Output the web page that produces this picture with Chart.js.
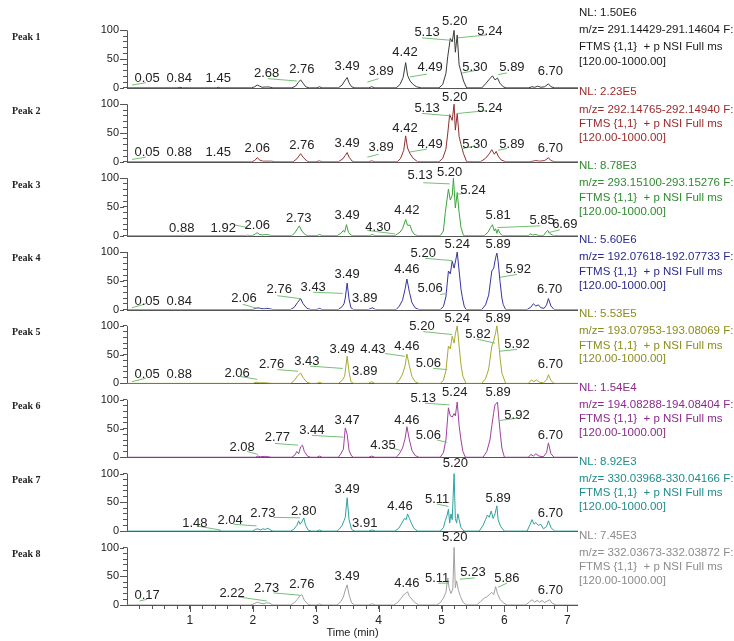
<!DOCTYPE html>
<html><head><meta charset="utf-8">
<script src="https://cdn.jsdelivr.net/npm/chart.js@4.4.1/dist/chart.umd.min.js"></script>
<style>html,body{margin:0;padding:0;background:#fff}#wrap{position:relative;width:734px;height:641px}</style>
</head><body><div id="wrap"><canvas id="c"></canvas></div>
<script>
// ---------- text ----------
const peakNames = ['Peak 1','Peak 2','Peak 3','Peak 4','Peak 5','Peak 6','Peak 7','Peak 8'];
const nlValues = ['NL: 1.50E6','NL: 2.23E5','NL: 8.78E3','NL: 5.60E6','NL: 5.53E5','NL: 1.54E4','NL: 8.92E3','NL: 7.45E3'];
const mzRanges = ['m/z= 291.14429-291.14604 F:','m/z= 292.14765-292.14940 F:','m/z= 293.15100-293.15276 F:','m/z= 192.07618-192.07733 F:','m/z= 193.07953-193.08069 F:','m/z= 194.08288-194.08404 F:','m/z= 330.03968-330.04166 F:','m/z= 332.03673-332.03872 F:'];
const scanFilter = 'FTMS {1,1}  + p NSI Full ms';
const massRange = '[120.00-1000.00]';
const xTickLabels = ['1','2','3','4','5','6','7'];
const yTickLabels = ['0','50','100'];
const xTitle = 'Time (min)';

// ---------- traces: [time (min), relative abundance (%)] ----------
const tracePeak1 = [[0,0],[0.8,0],[0.84,1],[0.88,0],[1.42,0],[1.45,1],[1.48,0],[1.98,0],[2.03,2],[2.07,5],[2.11,3],[2.15,1],[2.2,1.5],[2.26,1.5],[2.32,0],[2.62,0],[2.68,3],[2.72,9],[2.76,14],[2.8,8],[2.84,2],[2.9,0],[3.02,0],[3.06,2],[3.1,0],[3.36,0],[3.42,5],[3.46,12],[3.5,18],[3.53,9],[3.57,2],[3.62,0],[3.84,0],[3.89,2],[3.94,0],[4.28,0],[4.34,6],[4.39,18],[4.43,44],[4.46,22],[4.5,12],[4.55,6],[4.6,2],[4.68,0],[4.96,0],[5.02,6],[5.07,25],[5.1,55],[5.14,86],[5.17,80],[5.2,100],[5.22,62],[5.25,92],[5.28,40],[5.31,28],[5.35,12],[5.4,0],[5.64,0],[5.7,7],[5.76,15],[5.81,21],[5.85,14],[5.89,17],[5.93,8],[5.98,2],[6.03,0],[6.38,0],[6.44,2],[6.48,1],[6.53,3],[6.58,1],[6.64,2],[6.7,7],[6.74,2],[6.8,0],[7.17,0]];
const tracePeak2 = [[0,0],[1.98,0],[2.03,2],[2.07,7],[2.11,3],[2.16,1],[2.3,1],[2.35,0],[2.64,0],[2.7,5],[2.76,14],[2.8,8],[2.86,1],[2.9,0],[3.0,0],[3.06,1.5],[3.1,0],[3.36,0],[3.43,5],[3.47,11],[3.5,16],[3.53,8],[3.58,1],[3.62,0],[3.84,0],[3.89,1.5],[3.94,0],[4.3,0],[4.35,6],[4.4,20],[4.43,45],[4.46,24],[4.5,14],[4.55,6],[4.62,0],[4.96,0],[5.02,6],[5.07,22],[5.1,50],[5.13,82],[5.17,72],[5.2,100],[5.22,55],[5.25,84],[5.28,44],[5.31,30],[5.35,14],[5.4,0],[5.62,0],[5.7,6],[5.76,14],[5.8,21],[5.84,13],[5.87,18],[5.9,10],[5.95,3],[6.02,0],[6.4,0],[6.5,2],[6.56,1],[6.64,2],[6.7,7],[6.74,2],[6.8,0],[7.17,0]];
const tracePeak3 = [[0,0],[0.86,0],[0.88,1],[0.9,0],[1.9,0],[1.92,1],[1.95,0],[2.0,0],[2.04,3],[2.07,5],[2.11,2],[2.16,1],[2.2,2],[2.26,1],[2.3,0],[2.62,0],[2.67,5],[2.71,12],[2.74,17],[2.78,8],[2.84,1],[2.88,0],[3.02,0],[3.06,2],[3.1,0],[3.34,0],[3.4,4],[3.44,9],[3.46,6],[3.49,19],[3.52,6],[3.56,1],[3.6,0],[3.86,0],[3.9,2],[3.94,0],[4.26,0],[4.3,3],[4.34,6],[4.38,12],[4.43,28],[4.46,18],[4.5,18],[4.53,8],[4.57,2],[4.62,0],[4.98,0],[5.03,8],[5.06,40],[5.11,81],[5.14,62],[5.17,70],[5.19,100],[5.22,48],[5.25,75],[5.28,40],[5.31,14],[5.35,0],[5.68,0],[5.74,6],[5.78,14],[5.81,19],[5.84,8],[5.86,12],[5.88,4],[5.9,11],[5.93,4],[5.97,0],[6.38,0],[6.42,3],[6.45,1],[6.5,2],[6.55,0],[6.62,0],[6.66,6],[6.69,9],[6.73,3],[6.78,0],[7.17,0]];
const tracePeak4 = [[0,0],[2.0,0],[2.05,2],[2.08,3],[2.12,2],[2.18,1],[2.22,2],[2.28,1],[2.32,0],[2.6,0],[2.66,4],[2.71,12],[2.76,19],[2.8,10],[2.86,2],[2.92,0],[3.02,0],[3.06,2],[3.1,0],[3.36,0],[3.42,5],[3.45,10],[3.47,20],[3.5,46],[3.53,18],[3.56,3],[3.6,0],[3.84,0],[3.9,3],[3.95,0],[4.28,0],[4.33,6],[4.38,16],[4.42,35],[4.45,53],[4.49,30],[4.53,12],[4.58,3],[4.64,0],[4.98,0],[5.03,5],[5.07,22],[5.11,67],[5.14,62],[5.17,84],[5.2,72],[5.23,88],[5.25,100],[5.28,67],[5.31,35],[5.33,22],[5.36,6],[5.39,0],[5.64,0],[5.7,8],[5.75,25],[5.8,67],[5.83,72],[5.86,90],[5.88,98],[5.9,84],[5.93,49],[5.96,20],[5.98,9],[6.02,0],[6.36,0],[6.42,4],[6.46,10],[6.5,6],[6.54,8],[6.58,3],[6.63,2],[6.67,8],[6.7,19],[6.74,6],[6.79,0],[7.17,0]];
const tracePeak5 = [[0,0],[2.0,0],[2.06,2],[2.1,1],[2.2,1],[2.3,0],[2.6,0],[2.66,5],[2.71,13],[2.76,18],[2.8,10],[2.86,2],[2.92,0],[3.02,0],[3.06,2],[3.1,0],[3.36,0],[3.42,5],[3.46,12],[3.5,47],[3.53,20],[3.56,3],[3.6,0],[3.84,0],[3.89,3],[3.94,0],[4.28,0],[4.33,6],[4.38,16],[4.42,30],[4.45,51],[4.49,30],[4.53,12],[4.58,3],[4.64,0],[4.98,0],[5.03,5],[5.07,22],[5.11,65],[5.14,60],[5.17,82],[5.2,70],[5.22,86],[5.25,100],[5.28,65],[5.31,32],[5.34,12],[5.39,0],[5.64,0],[5.7,8],[5.75,25],[5.8,65],[5.83,74],[5.86,88],[5.88,100],[5.9,82],[5.93,45],[5.96,18],[6.02,0],[6.38,0],[6.43,6],[6.47,3],[6.51,6],[6.56,2],[6.62,1],[6.67,6],[6.7,15],[6.74,5],[6.79,0],[7.17,0]];
const tracePeak6 = [[0,0],[2.04,0],[2.08,2],[2.12,1],[2.2,1.5],[2.3,0],[2.62,0],[2.67,4],[2.7,10],[2.73,6],[2.76,18],[2.79,21],[2.82,10],[2.87,2],[2.92,0],[3.02,0],[3.06,2],[3.1,0],[3.36,0],[3.4,6],[3.44,14],[3.47,51],[3.5,40],[3.53,12],[3.57,2],[3.6,0],[3.84,0],[3.89,2],[3.94,0],[4.28,0],[4.33,6],[4.38,16],[4.42,32],[4.45,53],[4.49,30],[4.53,12],[4.58,3],[4.64,0],[4.98,0],[5.03,8],[5.07,30],[5.11,86],[5.14,72],[5.17,70],[5.2,76],[5.22,72],[5.25,96],[5.28,55],[5.31,30],[5.34,10],[5.38,0],[5.66,0],[5.72,10],[5.77,30],[5.8,55],[5.83,78],[5.85,91],[5.89,96],[5.91,70],[5.93,46],[5.96,16],[6.0,0],[6.38,0],[6.42,5],[6.46,2],[6.5,6],[6.55,2],[6.62,1],[6.67,8],[6.7,25],[6.74,6],[6.79,0],[7.17,0]];
const tracePeak7 = [[0,0],[1.46,0],[1.48,1],[1.5,0],[2.0,0],[2.04,3],[2.08,4],[2.12,2],[2.16,4],[2.2,3],[2.24,5],[2.28,2],[2.32,0],[2.6,0],[2.65,3],[2.7,10],[2.73,18],[2.75,12],[2.78,16],[2.81,23],[2.84,10],[2.88,2],[2.93,0],[3.02,0],[3.06,2],[3.1,0],[3.34,0],[3.38,4],[3.42,10],[3.45,18],[3.47,24],[3.5,58],[3.53,20],[3.57,3],[3.62,0],[3.84,0],[3.9,2],[3.95,0],[4.26,0],[4.32,5],[4.37,14],[4.41,22],[4.44,20],[4.46,30],[4.49,22],[4.52,14],[4.56,5],[4.62,0],[4.98,0],[5.03,6],[5.06,18],[5.09,28],[5.11,38],[5.13,14],[5.15,30],[5.17,20],[5.2,100],[5.22,22],[5.24,14],[5.26,30],[5.28,20],[5.31,6],[5.36,0],[5.6,0],[5.66,10],[5.7,20],[5.73,28],[5.76,24],[5.79,35],[5.82,22],[5.85,30],[5.88,44],[5.9,20],[5.94,8],[6.0,0],[6.36,0],[6.41,12],[6.44,20],[6.47,12],[6.5,15],[6.54,10],[6.58,12],[6.62,4],[6.67,8],[6.7,18],[6.74,6],[6.8,0],[7.17,0]];
const tracePeak8 = [[0,0],[0.15,0],[0.17,1],[0.19,0],[1.96,0],[2.02,2],[2.07,5],[2.12,3],[2.18,2],[2.22,4],[2.27,3],[2.32,0],[2.6,0],[2.66,4],[2.71,10],[2.75,16],[2.78,18],[2.82,8],[2.88,1],[2.92,0],[3.02,0],[3.06,2],[3.1,0],[3.34,0],[3.4,6],[3.44,14],[3.47,26],[3.5,35],[3.53,18],[3.57,4],[3.62,0],[3.84,0],[3.9,2],[3.95,0],[4.24,0],[4.3,4],[4.36,12],[4.4,18],[4.43,20],[4.46,23],[4.49,15],[4.53,10],[4.58,4],[4.64,0],[4.92,0],[4.98,4],[5.03,12],[5.07,22],[5.1,47],[5.12,30],[5.15,20],[5.18,28],[5.2,100],[5.22,30],[5.24,42],[5.27,25],[5.3,15],[5.34,5],[5.4,0],[5.56,0],[5.62,6],[5.68,12],[5.72,14],[5.76,18],[5.8,22],[5.83,18],[5.86,32],[5.89,20],[5.93,10],[5.98,4],[6.04,0],[6.34,0],[6.4,6],[6.44,9],[6.48,5],[6.52,8],[6.56,5],[6.6,8],[6.64,4],[6.68,7],[6.72,9],[6.76,3],[6.82,0],[7.17,0]];

// ---------- retention-time labels: [text, time, abundance] ----------
const rtPeak1 = [['0.05',0.32,16],['0.84',0.83,16],['1.45',1.45,16],['2.68',2.22,26],['2.76',2.78,32],['3.49',3.5,37],['3.89',4.04,28],['4.42',4.42,61],['4.49',4.82,35],['5.13',4.77,96],['5.20',5.21,116],['5.24',5.77,98],['5.30',5.53,35],['5.89',6.12,35],['6.70',6.73,28]];
const rtPeak2 = [['0.05',0.32,16],['0.88',0.83,16],['1.45',1.45,16],['2.06',2.07,23],['2.76',2.78,28],['3.49',3.5,32],['3.89',4.04,25],['4.42',4.42,58],['4.49',4.82,30],['5.13',4.77,93],['5.20',5.21,112],['5.24',5.77,93],['5.30',5.53,30],['5.89',6.12,30],['6.70',6.73,23]];
const rtPeak3 = [['0.88',0.87,12],['1.92',1.53,12],['2.06',2.07,17],['2.73',2.73,30],['3.49',3.5,35],['4.30',3.99,14],['4.42',4.45,43],['5.13',4.66,104],['5.20',5.13,110],['5.24',5.5,78],['5.81',5.9,35],['5.85',6.6,26],['6.69',6.96,19]];
const rtPeak4 = [['0.05',0.32,14],['0.84',0.83,14],['2.06',1.86,19],['2.76',2.42,35],['3.43',2.96,38],['3.49',3.5,61],['3.89',3.78,19],['4.46',4.45,70],['5.20',4.71,97],['5.24',5.25,113],['5.06',4.82,37],['5.89',5.9,113],['5.92',6.22,70],['6.70',6.72,35]];
const rtPeak5 = [['0.05',0.32,16],['0.88',0.83,16],['2.06',1.75,17],['2.76',2.3,33],['3.43',2.86,38],['3.49',3.42,59],['4.43',3.91,59],['4.46',4.45,64],['3.89',3.78,21],['5.20',4.69,99],['5.06',4.79,35],['5.24',5.25,113],['5.89',5.9,113],['5.82',5.58,85],['5.92',6.2,68],['6.70',6.73,33]];
const rtPeak6 = [['2.08',1.83,17],['2.77',2.39,35],['3.44',2.94,47],['3.47',3.5,64],['4.35',4.07,21],['4.46',4.45,64],['5.06',4.79,38],['5.13',4.71,103],['5.24',5.21,113],['5.89',5.9,113],['5.92',6.2,73],['6.70',6.73,38]];
const rtPeak7 = [['1.48',1.08,14],['2.04',1.64,19],['2.73',2.16,31],['2.80',2.81,35],['3.49',3.5,73],['3.91',3.78,14],['4.46',4.34,43],['5.11',4.93,56],['5.20',5.22,117],['5.89',5.9,57],['6.70',6.73,31]];
const rtPeak8 = [['0.17',0.32,16],['2.22',1.67,21],['2.73',2.22,28],['2.76',2.78,35],['3.49',3.5,49],['4.46',4.45,38],['5.11',4.93,47],['5.20',5.21,117],['5.23',5.5,56],['5.86',6.04,47],['6.70',6.73,26]];

// ---------- label leader lines: [t1, a1, t2, a2] ----------
const leadPeak1 = [[0.08,5,0.3,9],[2.24,16,2.7,12],[3.82,10,4.0,16],[4.5,19,4.77,24],[4.69,87,5.13,83],[5.26,87,5.72,92],[5.33,26,5.53,30],[5.9,23,6.04,26]];
const leadPeak2 = [[0.08,4,0.3,8],[3.82,8,4.0,13],[4.5,17,4.77,22],[4.69,84,5.13,80],[5.26,84,5.72,89],[5.33,23,5.53,27],[5.9,20,6.04,23]];
const leadPeak3 = [[1.69,19,1.92,14],[3.82,9,4.26,3],[4.71,92,5.13,90],[5.25,72,5.4,74],[5.89,14,6.57,17],[6.69,5,6.88,10]];
const leadPeak4 = [[0.08,3,0.3,10],[1.84,9,2.07,2],[2.39,24,2.75,19],[2.96,30,3.43,28],[4.74,89,5.17,85],[4.98,26,5.09,28],[5.93,56,6.2,61]];
const leadPeak5 = [[0.08,3,0.3,9],[1.8,12,2.07,7],[2.39,24,2.72,21],[2.91,30,3.43,26],[4.1,52,4.42,47],[4.71,90,5.17,85],[4.87,26,5.09,24],[5.56,77,5.85,70],[5.93,56,6.2,59]];
const leadPeak6 = [[1.91,10,2.08,5],[2.35,24,2.72,21],[2.94,38,3.44,35],[4.21,16,4.34,12],[4.74,94,5.13,91],[4.93,30,5.09,26],[5.93,64,6.2,68]];
const leadPeak7 = [[1.11,9,1.48,2],[1.69,12,2.06,9],[2.33,24,2.75,23],[4.93,47,5.11,43]];
const leadPeak8 = [[0.2,7,0.32,10],[1.77,14,2.22,7],[2.33,21,2.75,17],[4.95,38,5.11,38],[5.29,45,5.53,47],[5.9,31,6.04,38]];

// ---------- styles ----------
const traces = [tracePeak1,tracePeak2,tracePeak3,tracePeak4,tracePeak5,tracePeak6,tracePeak7,tracePeak8];
const rtLabels = [rtPeak1,rtPeak2,rtPeak3,rtPeak4,rtPeak5,rtPeak6,rtPeak7,rtPeak8];
const leaders = [leadPeak1,leadPeak2,leadPeak3,leadPeak4,leadPeak5,leadPeak6,leadPeak7,leadPeak8];
const lineColors = ['#3a3a3a','#8e3030','#3aa53a','#3535a0','#a8a830','#a040a0','#30a0a0','#a0a0a0'];
const textColors = ['#1a1a1a','#9c2a2a','#2e8b2e','#2a2a8c','#8c8c1a','#8c2a8c','#1f8c8c','#8c8c8c'];
const SANS = '"Liberation Sans", Arial, sans-serif';
const AXIS = '#555';

const scales = {
  x: {
    type: 'linear', position: 'bottom', min: 0, max: 7.17,
    afterBuildTicks: s => { const t = []; for (let k = 1; k <= 35; k++) t.push({value: k / 5}); s.ticks = t; },
    afterFit: s => { s.height = 36; },
    grid: { drawOnChartArea: false, drawTicks: true, tickLength: 4, color: AXIS, tickColor: AXIS },
    border: { display: false },
    ticks: { autoSkip: false, maxRotation: 0, padding: 4, color: '#222', font: { family: SANS, size: 12 },
      callback: v => { const r = Math.round(v); return Math.abs(v - r) < 1e-6 && r >= 1 ? xTickLabels[r - 1] : ''; } },
    title: { display: true, text: xTitle, color: '#222', font: { family: SANS, size: 11 }, padding: { top: 0, bottom: 1 } }
  }
};
for (let i = 0; i < 8; i++) {
  scales['y' + i] = {
    type: 'linear', position: 'left', stack: 'panels', stackWeight: 1, weight: 8 - i,
    min: 0, max: 128.5,
    afterBuildTicks: s => { const t = []; for (let v = 0; v <= 100; v += 10) t.push({value: v}); s.ticks = t; },
    afterFit: s => { s.width = 40; },
    grid: { drawOnChartArea: false, drawTicks: true, tickLength: 4, color: AXIS, tickColor: AXIS },
    border: { display: false },
    ticks: { autoSkip: false, padding: 4, color: '#222', font: { family: SANS, size: 11 },
      callback: v => yTickLabels.includes(String(v)) ? String(v) : '' }
  };
}

const decor = {
  id: 'decor',
  beforeDatasetsDraw(chart) {
    const {ctx, chartArea: ca} = chart;
    ctx.save();
    ctx.strokeStyle = AXIS; ctx.lineWidth = 1;
    for (let i = 0; i < 8; i++) {
      const ys = chart.scales['y' + i];
      const y0 = Math.round(ys.getPixelForValue(0)) + 0.5;
      const y100 = ys.getPixelForValue(100);
      ctx.beginPath();
      ctx.moveTo(ca.left, y0); ctx.lineTo(ca.right, y0);
      ctx.moveTo(ca.left + 0.5, y0); ctx.lineTo(ca.left + 0.5, y100);
      for (const v of [0, 50, 100]) {
        const y = Math.round(ys.getPixelForValue(v)) + 0.5;
        ctx.moveTo(ca.left - 7, y); ctx.lineTo(ca.left - 3, y);
      }
      ctx.stroke();
    }
    const xs = chart.scales.x;
    const yb = chart.scales.y7.getPixelForValue(0);
    ctx.beginPath();
    for (let r = 1; r <= 7; r++) {
      const x = Math.round(xs.getPixelForValue(r)) + 0.5;
      ctx.moveTo(x, yb); ctx.lineTo(x, yb + 7);
    }
    ctx.stroke();
    ctx.restore();
  },
  afterDatasetsDraw(chart) {
    const {ctx, chartArea: ca} = chart;
    const xs = chart.scales.x;
    ctx.save();
    for (let i = 0; i < 8; i++) {
      const ys = chart.scales['y' + i];
      // leader lines
      ctx.strokeStyle = '#74c074'; ctx.lineWidth = 1;
      ctx.beginPath();
      for (const [t1, a1, t2, a2] of leaders[i]) {
        ctx.moveTo(xs.getPixelForValue(t1), ys.getPixelForValue(a1));
        ctx.lineTo(xs.getPixelForValue(t2), ys.getPixelForValue(a2));
      }
      ctx.stroke();
      // retention-time labels
      ctx.fillStyle = '#222'; ctx.font = '13px ' + SANS;
      ctx.textAlign = 'center'; ctx.textBaseline = 'middle';
      for (const [txt, t, a] of rtLabels[i]) {
        ctx.fillText(txt, xs.getPixelForValue(t), ys.getPixelForValue(a));
      }
      // panel name
      ctx.fillStyle = '#222'; ctx.font = 'bold 10px "Liberation Serif", "Times New Roman", serif';
      ctx.textAlign = 'left';
      ctx.fillText(peakNames[i], 12, ys.getPixelForValue(88));
      // header text on the right (top panel has more room above it)
      const lift = i === 0 ? 10 : 0;
      ctx.fillStyle = textColors[i]; ctx.font = '11.5px ' + SANS;
      const xr = ca.right + 1;
      ctx.fillText(nlValues[i], xr, ys.getPixelForValue(118 + lift + 3));
      ctx.fillText(mzRanges[i], xr, ys.getPixelForValue(91 + lift));
      ctx.fillText(scanFilter, xr, ys.getPixelForValue(66 + lift / 2));
      ctx.fillText(massRange, xr, ys.getPixelForValue(42 + lift / 4));
    }
    ctx.restore();
  }
};

new Chart(document.getElementById('c'), {
  type: 'line',
  data: {
    datasets: traces.map((tr, i) => ({
      label: peakNames[i],
      data: tr.map(p => ({x: p[0], y: p[1]})),
      yAxisID: 'y' + i,
      borderColor: lineColors[i],
      borderWidth: 1,
      pointRadius: 0,
      tension: 0,
      fill: false
    }))
  },
  options: {
    responsive: true, maintainAspectRatio: false, animation: false,
    layout: { padding: { left: 87, right: 156, top: 14, bottom: 0 } },
    plugins: { legend: { display: false }, tooltip: { enabled: false }, title: { display: false } },
    scales
  },
  plugins: [decor]
});
</script></body></html>
